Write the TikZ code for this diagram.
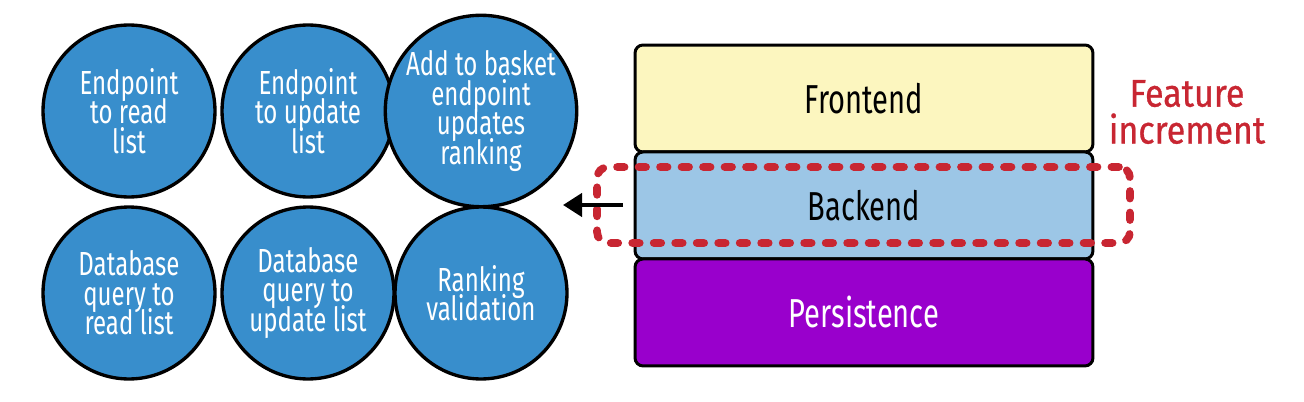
\documentclass[tikz,border=0pt]{standalone}
\usepackage{fontspec}
\setmainfont{Fira Sans}[FakeStretch=0.72]
\newfontfamily\featfont{Fira Sans}[FakeStretch=0.88, FakeBold=0.8]
\usetikzlibrary{arrows.meta,positioning}

\definecolor{taskblue}{RGB}{56,142,204}
\definecolor{frontyellow}{RGB}{252,246,191}
\definecolor{backblue}{RGB}{156,198,230}
\definecolor{persistpurple}{RGB}{153,0,204}
\definecolor{incred}{RGB}{200,38,50}

\begin{document}
\begin{tikzpicture}[
  x=0.02cm, y=-0.02cm,
  task/.style={circle, draw, line width=1.9pt, fill=taskblue, minimum size=3.44cm,
    inner sep=0pt, text=white, align=center,
    font={\fontsize{19}{16.8}\selectfont\lineskiplimit=-20pt}},
  layer/.style={rectangle, draw, line width=1.7pt, rounded corners=0.16cm,
    minimum width=9.16cm, minimum height=2.14cm, outer sep=0pt, inner sep=0pt,
    font=\fontsize{23}{24}\selectfont},
  increment/.style={rectangle, draw=incred, line width=4.4pt, dash pattern=on 0.15cm off 0.28cm,
    line cap=round, rounded corners=0.22cm, minimum width=10.66cm, minimum height=1.52cm},
  lbl/.style={text=incred, align=center, font=\featfont\fontsize{22}{21}\selectfont}
]
\useasboundingbox (0,0) rectangle (1304,402);

% work items
\node[task] (ep-read) at (129,111) {Endpoint\\to read\\list};
\node[task] (ep-upd) at (308,111) {Endpoint\\to update\\list};
\node[task] (ep-add) at (481,111) {Add to basket\\endpoint\\updates\\ranking};
\node[task] (db-read) at (129,293) {Database\\query to\\read list};
\node[task] (db-upd) at (308,293) {Database\\query to\\update list};
\node[task] (rank) at (481,293) {Ranking\\validation};

% layers
\node[layer, fill=frontyellow] (front) at (864,98.5) {Frontend};
\node[layer, fill=backblue, below=0pt of front] (back) {Backend};
\node[layer, fill=persistpurple, text=white, below=0pt of back] (persist) {Persistence};

% increment
\node[increment] (incr) at (863.5,205) {};
\node[lbl] (feat) at (1187,112) {Feature\\increment};

\coordinate (arr-from) at (623,205);
\coordinate (arr-to) at (563,205);
\draw[line width=2.4pt, -{Triangle[length=0.38cm,width=0.46cm]}] (arr-from) -- (arr-to);
\end{tikzpicture}
\end{document}
